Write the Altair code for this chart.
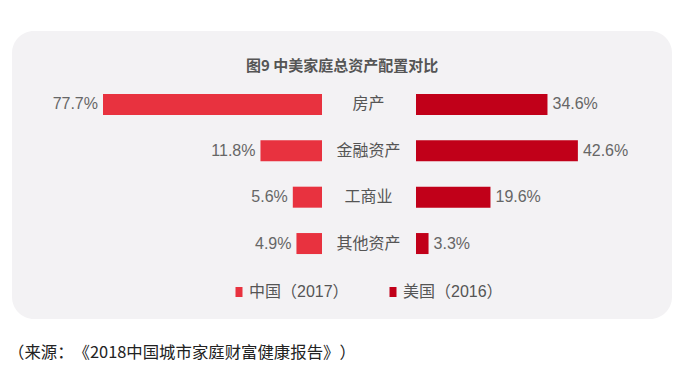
import altair as alt
import pandas as pd

categories = ["房产", "金融资产", "工商业", "其他资产"]
china_values = [77.7, 11.8, 5.6, 4.9]
us_values = [34.6, 42.6, 19.6, 3.3]
series = ["中国（2017）", "美国（2016）"]
colors = ["#e8323f", "#c10019"]
title_text = "图9 中美家庭总资产配置对比"
source_text = "\u200b（\u200b来源\u200b：\u200b《\u200b2018中国城市家庭财富健康报告\u200b》\u200b）"

cn = pd.DataFrame({
    "cat": categories,
    "value": china_values,
    "label": [f"{v}%" for v in china_values],
    "series": series[0],
})
us = pd.DataFrame({
    "cat": categories,
    "value": us_values,
    "label": [f"{v}%" for v in us_values],
    "series": series[1],
})

LATIN = "Liberation Sans, Noto Sans CJK SC"
CJK = "Noto Sans CJK SC"

yscale = alt.Scale(domain=categories, range=[73.3, 258.7],
                   paddingInner=0.547, paddingOuter=0.273)
yenc = alt.Y("cat:N", scale=yscale, axis=None, sort=categories)

cn_x = alt.Scale(domain=[0, 42], range=[314, 95], clamp=True, zero=True, nice=False)
us_x = alt.Scale(domain=[0, 50], range=[408, 598], clamp=True, zero=True, nice=False)

legend = alt.Legend(
    title=None, orient="none", legendX=223, legendY=276, direction="horizontal",
    symbolType="M-0.7,-1H0.7V1H-0.7Z", symbolSize=100, symbolStrokeWidth=0,
    labelFontSize=16, labelColor="#555555", labelFont=LATIN,
    columnPadding=36, labelOffset=2,
    labelExpr="replace(replace(datum.label, '（', '\u200b（\u200b'), '）', '\u200b）')",
)
color = alt.Color("series:N", scale=alt.Scale(domain=series, range=colors), legend=legend)

bg = alt.Chart(pd.DataFrame({"a": [0]})).mark_rect(
    color="#f3f2f4", cornerRadius=22
).encode(x=alt.value(4), x2=alt.value(664), y=alt.value(23), y2=alt.value(311))

title = alt.Chart(pd.DataFrame({"t": [title_text]})).mark_text(
    font=CJK, fontSize=15, fontWeight="bold", color="#555555", align="center", baseline="middle"
).encode(x=alt.value(334), y=alt.value(58), text="t:N")

cn_bar = alt.Chart(cn).mark_bar().encode(
    x=alt.X("value:Q", scale=cn_x, axis=None), y=yenc, color=color
)
us_bar = alt.Chart(us).mark_bar().encode(
    x=alt.X("value:Q", scale=us_x, axis=None), y=yenc, color=color
)
cn_txt = alt.Chart(cn).mark_text(
    font=LATIN, fontSize=16, color="#666666", align="right", baseline="middle", dx=-5
).encode(x=alt.X("value:Q", scale=cn_x, axis=None), y=yenc, text="label:N")
us_txt = alt.Chart(us).mark_text(
    font=LATIN, fontSize=16, color="#666666", align="left", baseline="middle", dx=5
).encode(x=alt.X("value:Q", scale=us_x, axis=None), y=yenc, text="label:N")
cat_txt = alt.Chart(cn).mark_text(
    font=CJK, fontSize=16, color="#555555", align="center", baseline="middle"
).encode(x=alt.value(360.5), y=yenc, text="cat:N")

source = alt.Chart(pd.DataFrame({"t": [source_text]})).mark_text(
    font=CJK, fontSize=16.4, color="#222222", align="left", baseline="middle"
).encode(x=alt.value(0), y=alt.value(345), text="t:N")

chart = alt.layer(
    bg, title, cn_bar, us_bar, cn_txt, us_txt, cat_txt, source
).resolve_scale(x="independent").properties(
    width=666, height=358,
    autosize=alt.AutoSizeParams(type="none"),
    padding=0,
    background="white",
).configure_view(stroke=None)

chart.save("out.html", embed_options={"renderer": "svg", "actions": False})
